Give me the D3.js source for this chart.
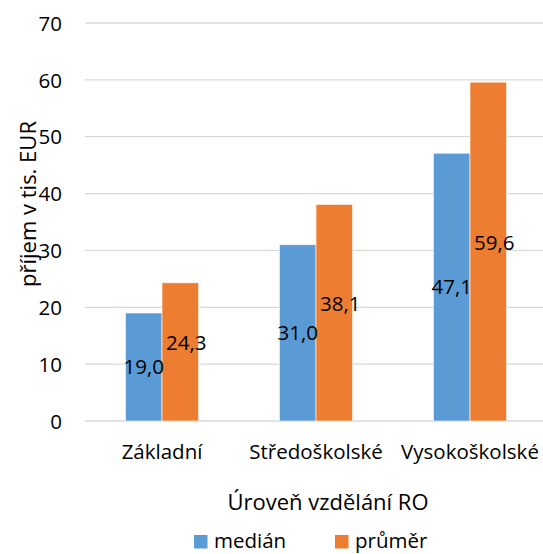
<!DOCTYPE html>
<html>
<head>
<meta charset="utf-8">
<script src="https://cdn.jsdelivr.net/npm/d3@7"></script>
<style>
  body { margin: 0; background: #fff; }
  svg { display: block; }
  text { font-family: "Open Sans", Lato, sans-serif; fill: #000; }
</style>
</head>
<body>
<svg id="chart" width="543" height="554"></svg>
<script>
// Income by education level of the reference person (thousand EUR)
const categories = ["Základní", "Středoškolské", "Vysokoškolské"];
const seriesNames = ["medián", "průměr"];
const medianValues = [19.0, 31.0, 47.1];
const meanValues = [24.3, 38.1, 59.6];
const yTicks = [0, 10, 20, 30, 40, 50, 60, 70];

const colors = { "medián": "#5B9BD5", "průměr": "#ED7D31" };
const fmt = v => d3.format(".1f")(v).replace(".", ",");
const FONT = "'Open Sans', Lato, sans-serif";
const FS = 20.5;
const TITLE_FS = 22;

const svg = d3.select("#chart");
const W = 543, H = 554;
const plotLeft = 85, plotRight = 547, plotTop = 23, plotBottom = 421;

const x0 = d3.scaleBand().domain(categories).range([plotLeft, plotRight]).paddingInner(0).paddingOuter(0);
const barW = 36.6;
const x1 = d3.scaleBand().domain(seriesNames).range([0, barW * 2]);
const y = d3.scaleLinear().domain([0, 70]).range([plotBottom, plotTop]);

// gridlines
svg.append("g")
  .selectAll("line").data(yTicks).join("line")
  .attr("x1", plotLeft).attr("x2", W)
  .attr("y1", d => y(d)).attr("y2", d => y(d))
  .attr("stroke", "#D9D9D9").attr("stroke-width", 1.3);

// y axis tick labels
const yAxis = d3.axisLeft(y).tickValues(yTicks).tickSize(0).tickPadding(0).tickFormat(d3.format("d"));
const yg = svg.append("g").attr("transform", `translate(62,0)`).call(yAxis);
yg.select(".domain").remove();
yg.selectAll("text").attr("font-size", FS).attr("font-family", FONT).attr("fill", "#000").attr("dy", "0.35em");

// bars
const rows = categories.map((c, i) => ({ cat: c, values: [
  { s: "medián", v: medianValues[i] },
  { s: "průměr", v: meanValues[i] }
]}));

const groups = svg.append("g").selectAll("g").data(rows).join("g")
  .attr("transform", d => `translate(${x0(d.cat) + x0.bandwidth() / 2 - barW},0)`);

groups.selectAll("rect").data(d => d.values).join("rect")
  .attr("x", d => x1(d.s))
  .attr("width", x1.bandwidth())
  .attr("y", d => y(d.v))
  .attr("height", d => y(0) - y(d.v))
  .attr("fill", d => colors[d.s])
  .attr("stroke", "#fff").attr("stroke-width", 0.6);

// value labels
const labelShift = { "medián": [0, 0], "průměr": [6, -9] };
groups.selectAll("text.val").data(d => d.values).join("text")
  .attr("class", "val")
  .attr("x", d => x1(d.s) + x1.bandwidth() / 2 + labelShift[d.s][0])
  .attr("y", d => y(d.v / 2) + labelShift[d.s][1])
  .attr("dy", "0.35em")
  .attr("text-anchor", "middle")
  .attr("font-size", FS)
  .text(d => fmt(d.v));

// category labels
const xAxis = d3.axisBottom(x0).tickSize(0).tickPadding(0);
const xg = svg.append("g").attr("transform", `translate(0,${plotBottom})`).call(xAxis);
xg.select(".domain").remove();
xg.selectAll("text").attr("font-size", FS).attr("font-family", FONT).attr("fill", "#000")
  .attr("dy", null).attr("y", 38);

// axis titles
svg.append("text")
  .attr("x", 328).attr("y", 510)
  .attr("text-anchor", "middle").attr("font-size", TITLE_FS)
  .text("Úroveň vzdělání RO");

svg.append("text")
  .attr("transform", "translate(36,204) rotate(-90)")
  .attr("text-anchor", "middle").attr("font-size", TITLE_FS)
  .text("příjem v tis. EUR");

// legend
const legendX = [194, 335];
const lg = svg.append("g").selectAll("g").data(seriesNames).join("g")
  .attr("transform", (d, i) => `translate(${legendX[i]},535)`);
lg.append("rect").attr("width", 13.5).attr("height", 13.5).attr("fill", d => colors[d]);
lg.append("text").attr("x", 20).attr("y", 13).attr("font-size", FS).text(d => d);
</script>
</body>
</html>
